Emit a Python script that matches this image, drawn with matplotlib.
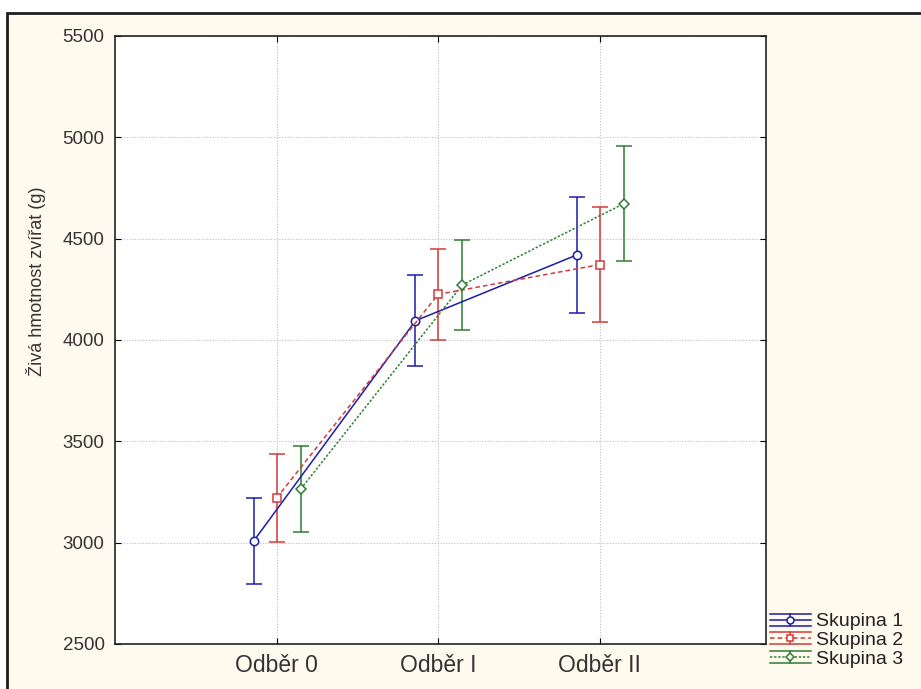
import matplotlib
matplotlib.use("Agg")
import matplotlib.pyplot as plt
from matplotlib.patches import Rectangle
from matplotlib.lines import Line2D
from matplotlib.legend_handler import HandlerBase

categories = ["Odběr 0", "Odběr I", "Odběr II"]
series_names = ["Skupina 1", "Skupina 2", "Skupina 3"]
means = {
    "Skupina 1": [3010, 4095, 4420],
    "Skupina 2": [3220, 4225, 4372],
    "Skupina 3": [3265, 4272, 4673],
}
errors = {
    "Skupina 1": [212, 225, 285],
    "Skupina 2": [217, 225, 284],
    "Skupina 3": [212, 222, 283],
}
yticks = [2500, 3000, 3500, 4000, 4500, 5000, 5500]

colors = {"Skupina 1": "#1c1caa", "Skupina 2": "#d43a3a", "Skupina 3": "#2e7d32"}
styles = {"Skupina 1": "-", "Skupina 2": (0, (3, 2)), "Skupina 3": (0, (1.5, 1.2))}
markers = {"Skupina 1": "o", "Skupina 2": "s", "Skupina 3": "D"}
msizes = {"Skupina 1": 6, "Skupina 2": 5.5, "Skupina 3": 5}
offsets = {"Skupina 1": -0.14, "Skupina 2": 0.0, "Skupina 3": 0.15}


class ErrHandler(HandlerBase):
    def create_artists(self, legend, orig_handle, xdescent, ydescent,
                       width, height, fontsize, trans):
        c, ls, mk, ms = orig_handle
        cy = height / 2 - ydescent
        dy = 4.3
        x0, x1 = -xdescent, width - xdescent
        xm = (x0 + x1) / 2
        arts = []
        for yy, sty in ((cy + dy, "-"), (cy - dy, "-"), (cy, ls)):
            arts.append(Line2D([x0, x1], [yy, yy], color=c, lw=1.1, linestyle=sty))
        arts.append(Line2D([xm, xm], [cy - dy, cy + dy], color=c, lw=1.1))
        arts.append(Line2D([xm], [cy], marker=mk, markersize=ms, color=c,
                           markerfacecolor="white", markeredgewidth=1.1, linestyle="none"))
        for a in arts:
            a.set_transform(trans)
        return arts


plt.rcParams['font.family'] = ['Liberation Sans', 'DejaVu Sans']
W, H = 921, 689
fig = plt.figure(figsize=(W / 100, H / 100), dpi=100)
fig.patch.set_facecolor("white")
border = Rectangle((7 / W, -0.05), 1.2, (H - 13) / H + 0.05, transform=fig.transFigure,
                   facecolor="#fefaee", edgecolor="#1e1e1e", lw=2, zorder=-10)
fig.add_artist(border)

ax = fig.add_axes([115 / W, (H - 644) / H, (766 - 115) / W, (644 - 36) / H])
ax.set_facecolor("white")
ax.set_zorder(1)

for name in series_names:
    xs = [i + 1 + offsets[name] for i in range(len(categories))]
    c = colors[name]
    ax.errorbar(xs, means[name], yerr=errors[name], color=c, ecolor=c,
                linestyle=styles[name], lw=1.1, elinewidth=1.1,
                capsize=5.5, capthick=1.1, marker=markers[name],
                markersize=msizes[name], markerfacecolor="white",
                markeredgecolor=c, markeredgewidth=1.1, label=name, zorder=3)

ax.set_xlim(0, 4.03)
ax.set_ylim(2500, 5500)
ax.set_xticks([1, 2, 3])
ax.set_xticklabels(categories, fontsize=16.5, color="#333333")
ax.set_yticks(yticks)
ax.set_yticklabels([str(v) for v in yticks], fontsize=13.5, color="#333333")
ax.tick_params(direction="in", length=4, top=True, right=True, width=0.8)
ax.tick_params(axis="y", pad=7.5)
ax.tick_params(axis="x", pad=7)
ax.grid(True, linestyle=(0, (1, 1.5)), color="#bdbdbd", lw=0.8, zorder=0)
for s in ax.spines.values():
    s.set_color("#222222")
    s.set_linewidth(1.2)

fig.text(36 / W, 1 - 281 / H, "Živá hmotnost zvířat (g)", rotation=90,
         ha="center", va="center", fontsize=13, color="#333333")

proxies = [(colors[n], styles[n], markers[n], msizes[n] - 1) for n in series_names]
leg = fig.legend(handles=proxies, labels=series_names, loc="upper left",
                 bbox_to_anchor=(766 / W, 1 - 609 / H), frameon=False,
                 fontsize=14, handlelength=2.1, handletextpad=0.25,
                 labelspacing=0.05, borderpad=0.2, borderaxespad=0,
                 handler_map={tuple: ErrHandler()})
for t in leg.get_texts():
    t.set_color("#222222")

fig.savefig("out.png", dpi=100, facecolor=fig.get_facecolor())
